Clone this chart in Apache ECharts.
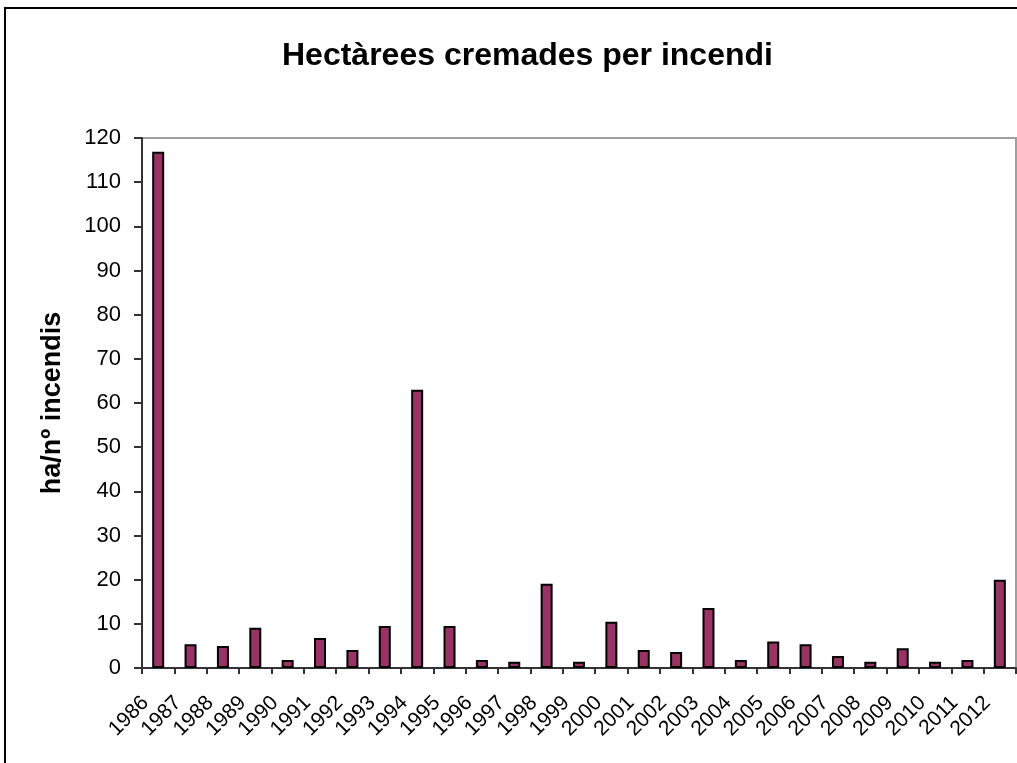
<!DOCTYPE html>
<html>
<head>
<meta charset="utf-8">
<title>Hectàrees cremades per incendi</title>
<script src="https://cdn.jsdelivr.net/npm/echarts@6/dist/echarts.min.js"></script>
<style>
	html, body { margin: 0; padding: 0; background: #fff; }
	#chart { width: 1017px; height: 763px; }
</style>
</head>
<body>
<div id="chart"></div>
<script type="text/javascript">
// anys i hectàrees per incendi
var years = ['1986', '1987', '1988', '1989', '1990', '1991', '1992', '1993', '1994', '1995',
	'1996', '1997', '1998', '1999', '2000', '2001', '2002', '2003', '2004', '2005',
	'2006', '2007', '2008', '2009', '2010', '2011', '2012'];
var haPerFire = [116.9, 5.4, 5.0, 9.1, 1.8, 6.8, 4.1, 9.5, 63.0, 9.5,
	1.8, 1.4, 19.1, 1.4, 10.5, 4.1, 3.6, 13.6, 1.8, 6.0,
	5.4, 2.7, 1.4, 4.5, 1.4, 1.8, 20.0];
var yTicks = [0, 20, 40, 60, 80, 100, 120];

var font = 'Liberation Sans, Arial, sans-serif';
var myChart = echarts.init(document.getElementById('chart'));
myChart.setOption({
	animation: false,
	backgroundColor: '#fff',
	title: {
		text: 'Hectàrees cremades per incendi',
		left: 277,
		top: 35,
		textStyle: { fontFamily: font, fontSize: 32, fontWeight: 'bold', color: '#000' }
	},
	graphic: [{
		type: 'rect',
		shape: { x: 5, y: 8, width: 1030, height: 800 },
		style: { fill: 'none', stroke: '#000', lineWidth: 2 },
		silent: true
	}],
	grid: {
		left: 142, top: 138, right: 1, bottom: 95,
		show: true, borderColor: '#a0a0a0', borderWidth: 2
	},
	xAxis: {
		type: 'category',
		data: years,
		axisLine: { lineStyle: { color: '#333', width: 2 } },
		axisTick: { show: true, length: 6, lineStyle: { color: '#333', width: 2 } },
		axisLabel: {
			rotate: 45, interval: 0, margin: 19,
			padding: [0, 18, 0, 0],
			fontFamily: font, fontSize: 21, color: '#000'
		}
	},
	yAxis: {
		type: 'value',
		min: 0, max: yTicks[yTicks.length - 1], interval: 10,
		name: 'ha/nº incendis',
		nameLocation: 'middle',
		nameGap: 76,
		nameTextStyle: { fontFamily: font, fontSize: 27, fontWeight: 'bold', color: '#000' },
		axisLine: { show: true, lineStyle: { color: '#333', width: 2 } },
		axisTick: { show: true, length: 8, lineStyle: { color: '#333', width: 2 } },
		axisLabel: { margin: 21, fontFamily: font, fontSize: 22, color: '#000' },
		splitLine: { show: false }
	},
	series: [{
		type: 'bar',
		data: haPerFire,
		barWidth: 12,
		itemStyle: { color: '#993366', borderColor: '#000', borderWidth: 2 }
	}]
});
</script>
</body>
</html>
